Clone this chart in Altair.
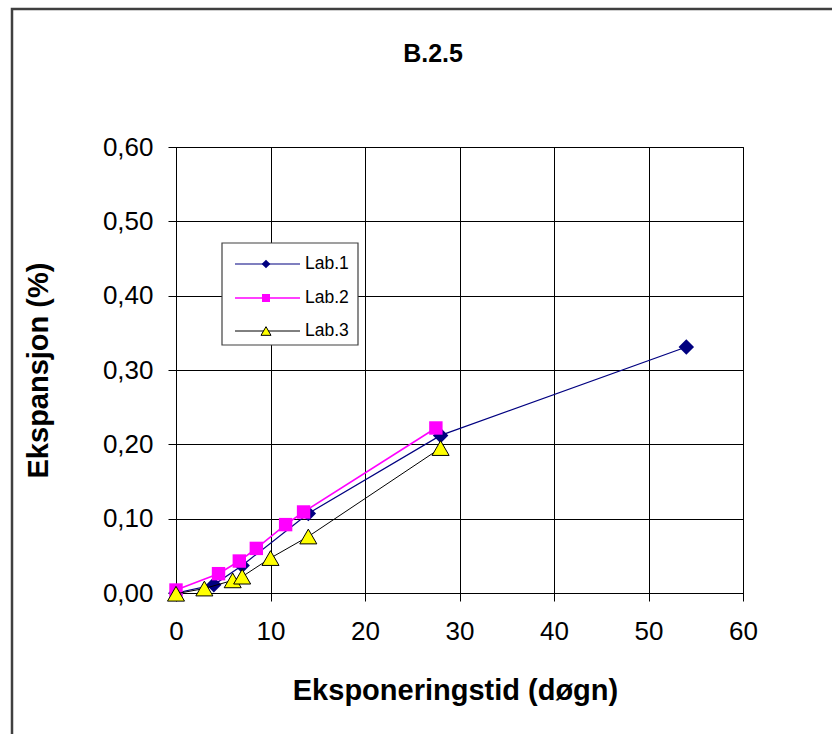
import altair as alt
import pandas as pd

# Expansion measurements (days, %) for the three laboratories
lab1_days = [0, 4, 7, 14, 28, 54]
lab1_exp = [0.000, 0.011, 0.037, 0.107, 0.212, 0.331]

lab2_days = [0, 4.5, 6.7, 8.5, 11.6, 13.5, 27.5]
lab2_exp = [0.004, 0.026, 0.043, 0.060, 0.092, 0.109, 0.222]

lab3_days = [0, 3, 6, 7, 10, 14, 28]
lab3_exp = [-0.001, 0.006, 0.017, 0.022, 0.047, 0.076, 0.195]

series_names = ["Lab.1", "Lab.2", "Lab.3"]
line_colors = ["#000080", "#FF00FF", "#000000"]
marker_fill = ["#000080", "#FF00FF", "#FFFF00"]
marker_stroke = ["#000080", "#FF00FF", "#000000"]
marker_shape = ["diamond", "square", "triangle-up"]
marker_size = [240, 180, 290]
legend_marker_size = [75, 65, 100]
line_widths = [1.2, 1.6, 1.0]

chart_title = "B.2.5"
x_title = "Eksponeringstid (døgn)"
y_title = "Ekspansjon (%)"

FONT = "Liberation Sans"
W, H = 567, 446

frames = []
for name, d, e in zip(series_names, [lab1_days, lab2_days, lab3_days], [lab1_exp, lab2_exp, lab3_exp]):
    frames.append(pd.DataFrame({"series": name, "days": d, "exp": e}))
data = pd.concat(frames, ignore_index=True)

x_enc = alt.X(
    "days:Q",
    scale=alt.Scale(domain=[0, 60], nice=False),
    axis=alt.Axis(
        values=[0, 10, 20, 30, 40, 50, 60],
        format="d",
        title=x_title,
        titleFont=FONT, titleFontSize=29, titleFontWeight="bold", titleColor="#000",
        titlePadding=32, titleX=279, titleAlign="center",
        labelFont=FONT, labelFontSize=26, labelColor="#000", labelPadding=17,
        labelFlush=False, labelOverlap=False,
        tickSize=8, tickColor="#000", domainColor="#000",
        grid=True, gridColor="#000", gridWidth=1,
    ),
)
y_enc = alt.Y(
    "exp:Q",
    scale=alt.Scale(domain=[0, 0.6], nice=False),
    axis=alt.Axis(
        values=[0, 0.1, 0.2, 0.3, 0.4, 0.5, 0.6],
        labelExpr="replace(format(datum.value, '.2f'), '.', ',')",
        title=y_title,
        titleFont=FONT, titleFontSize=29, titleFontWeight="bold", titleColor="#000",
        titlePadding=49,
        labelFont=FONT, labelFontSize=26, labelColor="#000", labelPadding=15,
        labelFlush=False, labelOverlap=False,
        tickSize=8, tickColor="#000", domainColor="#000",
        grid=True, gridColor="#000", gridWidth=1,
    ),
)

layers = []

# outer chart frame
frame = alt.Chart(pd.DataFrame({"k": [0]})).mark_rect(
    fill=None, stroke="#404040", strokeWidth=2.5
).encode(
    x=alt.value(-164), x2=alt.value(720), y=alt.value(-138), y2=alt.value(640)
)
layers.append(frame)

for i, name in enumerate(series_names):
    sub = data[data["series"] == name]
    base = alt.Chart(sub)
    line = base.mark_line(color=line_colors[i], strokeWidth=line_widths[i]).encode(
        x=x_enc, y=y_enc, order="days:Q"
    )
    pts = base.mark_point(
        shape=marker_shape[i], size=marker_size[i], filled=True,
        fill=marker_fill[i], stroke=marker_stroke[i],
        strokeWidth=1 if i == 2 else 0, opacity=1,
    ).encode(x="days:Q", y="exp:Q")
    layers += [line, pts]

# legend box
legend_box = alt.Chart(pd.DataFrame({"k": [0]})).mark_rect(
    fill="#FFFFFF", stroke="#404040", strokeWidth=1.2
).encode(x=alt.value(46), x2=alt.value(182), y=alt.value(96), y2=alt.value(198))
layers.append(legend_box)

row_y = [117, 151, 184]
for i, name in enumerate(series_names):
    one = alt.Chart(pd.DataFrame({"label": [name]}))
    layers.append(
        one.mark_rule(color=line_colors[i], strokeWidth=line_widths[i]).encode(
            x=alt.value(59), x2=alt.value(124), y=alt.value(row_y[i])
        )
    )
    layers.append(
        one.mark_point(
            shape=marker_shape[i], size=legend_marker_size[i], filled=True,
            fill=marker_fill[i], stroke=marker_stroke[i],
            strokeWidth=1 if i == 2 else 0, opacity=1,
        ).encode(x=alt.value(90), y=alt.value(row_y[i]))
    )
    layers.append(
        one.mark_text(
            align="left", baseline="middle", font=FONT, fontSize=17.5, color="#000"
        ).encode(x=alt.value(129), y=alt.value(row_y[i]), text="label:N")
    )

title_mark = alt.Chart(pd.DataFrame({"t": [chart_title]})).mark_text(
    font=FONT, fontSize=25, fontWeight="bold", color="#000", align="center", baseline="middle"
).encode(x=alt.value(257), y=alt.value(-93), text="t:N")
layers.append(title_mark)

chart = alt.layer(*layers).properties(
    width=W, height=H,
    autosize=alt.AutoSizeParams(type="none"),
    padding={"left": 176, "top": 147, "right": 89, "bottom": 141},
    background="#FFFFFF",
).configure_view(stroke="#000", strokeWidth=1)

chart.save("out.html", embed_options={"renderer": "svg", "actions": False})
